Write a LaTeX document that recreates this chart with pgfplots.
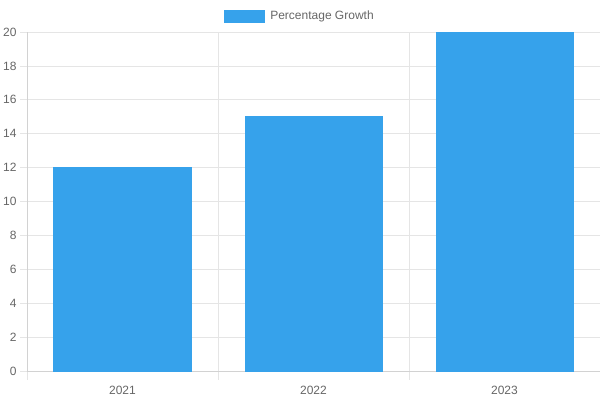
\documentclass[border=0pt]{standalone}
\usepackage{pgfplots}
\pgfplotsset{compat=1.18}
\usepackage{fontspec}
\setmainfont{Liberation Sans}
\definecolor{barblue}{RGB}{54,162,235}
\definecolor{gridgray}{RGB}{229,229,229}
\definecolor{axisgray}{RGB}{210,210,210}
\definecolor{labelgray}{RGB}{102,102,102}
\begin{document}
\begin{tikzpicture}
  \path[use as bounding box] (0,0) rectangle (600pt,400pt);
  \begin{axis}[
    at={(27pt,29pt)}, anchor=south west,
    scale only axis,
    width=573pt, height=339pt,
    xmin=-0.5, xmax=2.5,
    ymin=0, ymax=20,
    ytick={0,2,...,20},
    xtick={0,1,2},
    xticklabels={2021,2022,2023},
    minor xtick={-0.5,0.5,1.5,2.5},
    ymajorgrids=true, xminorgrids=true,
    grid style={gridgray, line width=0.8pt},
    minor grid style={gridgray, line width=0.8pt},
    axis line style={axisgray, line width=0.8pt},
    axis x line*=bottom, axis y line*=left,
    tick align=outside,
    major tick length=7pt,
    minor tick length=9pt,
    tick style={gridgray, line width=0.8pt},
    xtick style={draw=none},
    minor x tick style={draw=gridgray},
    font=\fontsize{12}{14}\selectfont,
    tick label style={text=labelgray},
    xticklabel style={yshift=-5pt},
    /pgf/number format/assume math mode=true,
    ybar, bar width=137pt,
    legend style={at={(0.5,1)}, anchor=center, xshift=-13.5pt, yshift=16pt,
      draw=none, fill=none, inner sep=0pt, font=\fontsize{12}{14}\selectfont, text=labelgray},
    legend image code/.code={\fill[barblue] (0pt,-6pt) rectangle (40pt,6pt); \path (44pt,0pt);},
  ]
    \addplot[fill=barblue, draw=barblue, line width=0pt] coordinates {
      (0, 12)
      (1, 15)
      (2, 20)
    };
    \legend{Percentage Growth}
  \end{axis}
\end{tikzpicture}
\end{document}
